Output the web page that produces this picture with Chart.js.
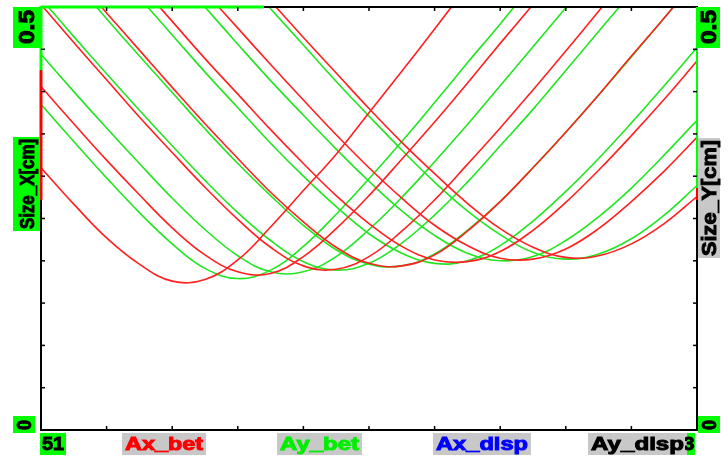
<!DOCTYPE html>
<html lang="en">
<head>
  <meta charset="UTF-8" />
  <title>Beam size scan</title>
  <style>
    html, body { margin: 0; padding: 0; background: #fff; }
    #wrap { width: 728px; height: 460px; }
  </style>
</head>
<body>
  <div id="wrap"><canvas id="scan" width="728" height="460"></canvas></div>

  <script src="https://cdn.jsdelivr.net/npm/chart.js@4.4.1/dist/chart.umd.min.js"></script>
  <script>
    // scan positions (x axis) and the read-off beam sizes [cm]
    const xGrid = [51.0, 51.1, 51.2, 51.3, 51.4, 51.5, 51.6, 51.7, 51.8, 51.9, 52.0,
                   52.1, 52.2, 52.3, 52.4, 52.5, 52.6, 52.7, 52.8, 52.9, 53.0];
    const xTickLabels = ['51', '53'];
    const yTickLabels = ['0', '0.5'];
    const axisTitles = ['Size_X[cm]', 'Size_Y[cm]'];
    const seriesNames = ['Ax_bet', 'Ay_bet', 'Ax_disp', 'Ay_disp'];

    // red family (Ax_bet)
    const axBet1 = [0.310, 0.267, 0.227, 0.196, 0.176, 0.178, 0.201, 0.240, 0.283, 0.326, 0.375, 0.424, 0.474, 0.525, null, null, null, null, null, null, null];
    const axBet2 = [0.406, 0.362, 0.319, 0.278, 0.239, 0.207, 0.187, 0.185, 0.205, 0.238, 0.277, 0.320, 0.364, 0.410, 0.457, 0.503, null, null, null, null, null];
    const axBet3 = [0.503, 0.458, 0.414, 0.370, 0.328, 0.287, 0.249, 0.216, 0.194, 0.190, 0.205, 0.235, 0.272, 0.314, 0.357, 0.402, 0.448, 0.495, 0.542, null, null];
    const axBet4 = [null, 0.538, 0.493, 0.449, 0.405, 0.362, 0.321, 0.281, 0.246, 0.216, 0.197, 0.194, 0.207, 0.235, 0.270, 0.310, 0.352, 0.396, 0.442, 0.487, 0.534];
    const axBet5 = [null, null, null, 0.527, 0.483, 0.439, 0.397, 0.355, 0.315, 0.277, 0.244, 0.217, 0.201, 0.199, 0.211, 0.236, 0.269, 0.307, 0.348, 0.391, 0.436];
    const axBet6 = [null, null, null, null, null, 0.518, 0.475, 0.432, 0.390, 0.349, 0.310, 0.274, 0.242, 0.218, 0.203, 0.202, 0.214, 0.238, 0.270, 0.306, 0.346];
    const axBet7 = [null, null, null, null, null, null, null, 0.507, 0.464, 0.422, 0.380, 0.340, 0.303, 0.268, 0.238, 0.216, 0.204, 0.206, 0.220, 0.244, 0.276];

    // green family (Ay_bet)
    const ayBet1 = [0.385, 0.341, 0.298, 0.257, 0.220, 0.191, 0.179, 0.189, 0.217, 0.255, 0.297, 0.341, 0.387, 0.434, 0.480, 0.528, null, null, null, null, null];
    const ayBet2 = [0.444, 0.400, 0.357, 0.315, 0.274, 0.237, 0.206, 0.187, 0.187, 0.205, 0.237, 0.275, 0.317, 0.361, 0.407, 0.453, 0.499, 0.546, null, null, null];
    const ayBet3 = [0.510, 0.465, 0.421, 0.378, 0.336, 0.295, 0.257, 0.224, 0.199, 0.189, 0.197, 0.221, 0.254, 0.293, 0.336, 0.379, 0.425, 0.471, 0.517, null, null];
    const ayBet4 = [null, 0.531, 0.486, 0.442, 0.399, 0.356, 0.315, 0.277, 0.242, 0.213, 0.196, 0.194, 0.208, 0.236, 0.270, 0.310, 0.352, 0.396, 0.441, 0.487, 0.533];
    const ayBet5 = [null, null, null, 0.511, 0.467, 0.423, 0.381, 0.339, 0.300, 0.264, 0.232, 0.209, 0.197, 0.200, 0.218, 0.247, 0.282, 0.321, 0.363, 0.407, 0.452];
    const ayBet6 = [null, null, null, null, 0.544, 0.500, 0.456, 0.413, 0.372, 0.332, 0.294, 0.259, 0.230, 0.209, 0.200, 0.205, 0.224, 0.252, 0.286, 0.325, 0.366];
    const ayBet7 = [null, null, null, null, null, null, 0.542, 0.498, 0.455, 0.412, 0.371, 0.331, 0.293, 0.259, 0.231, 0.210, 0.202, 0.208, 0.226, 0.254, 0.289];

    const redCurves = [axBet1, axBet2, axBet3, axBet4, axBet5, axBet6, axBet7];
    const greenCurves = [ayBet1, ayBet2, ayBet3, ayBet4, ayBet5, ayBet6, ayBet7];

    const GREEN = '#00ff00';
    const GRAY = '#c8c8c8';
    const RED = '#ff2020';
    const LINE_GREEN = '#22e622';

    function toPoints(ys) {
      return xGrid.map((x, i) => ({ x: x, y: ys[i] }));
    }

    const datasets = [];
    redCurves.forEach((ys, i) => {
      datasets.push({ label: seriesNames[0] + ' ' + (i + 1), data: toPoints(ys), borderColor: RED });
    });
    greenCurves.forEach((ys, i) => {
      datasets.push({ label: seriesNames[1] + ' ' + (i + 1), data: toPoints(ys), borderColor: LINE_GREEN });
    });

    // heavy text squeezed/stretched to a given length, optionally rotated
    function fitText(ctx, text, cx, cy, len, size, color, angle) {
      ctx.save();
      ctx.font = 'bold ' + size + 'px "Liberation Sans", Arial, sans-serif';
      const w = ctx.measureText(text).width;
      ctx.translate(cx, cy);
      ctx.rotate(angle || 0);
      ctx.scale(len / w, 1);
      ctx.fillStyle = color;
      ctx.strokeStyle = color;
      ctx.lineWidth = 1;
      ctx.textAlign = 'center';
      ctx.textBaseline = 'middle';
      ctx.fillText(text, 0, 1);
      ctx.strokeText(text, 0, 1);
      ctx.restore();
    }

    function box(ctx, x1, y1, x2, y2, color) {
      ctx.fillStyle = color;
      ctx.fillRect(x1, y1, x2 - x1, y2 - y1);
    }

    const scanFrame = {
      id: 'scanFrame',
      afterDatasetsDraw(chart) {
        const { ctx, chartArea: a, scales: { x, y } } = chart;
        const line = (x1, y1, x2, y2, color, w) => {
          ctx.beginPath();
          ctx.strokeStyle = color;
          ctx.lineWidth = w;
          ctx.moveTo(x1, y1);
          ctx.lineTo(x2, y2);
          ctx.stroke();
        };
        ctx.save();

        // frame
        ctx.strokeStyle = '#000';
        ctx.lineWidth = 2;
        ctx.strokeRect(a.left, a.top, a.right - a.left, a.bottom - a.top);

        // coloured pieces of the frame
        line(a.left, a.top - 1, a.left, y.getPixelForValue(0.425), GREEN, 3);
        line(a.left, y.getPixelForValue(0.425), a.left, y.getPixelForValue(0.272), '#ff0000', 3);
        line(a.right, a.top, a.right, y.getPixelForValue(0.286), GREEN, 2);
        line(a.right, y.getPixelForValue(0.286), a.right, y.getPixelForValue(0.272), '#ff0000', 2);
        line(a.left, a.top, x.getPixelForValue(51.68), a.top, GREEN, 3);

        // ticks
        for (let k = 1; k < 10; k++) {
          const py = y.getPixelForValue(k * 0.05);
          line(a.left, py, a.left + 4, py, '#000', 1.5);
          line(a.right - 4, py, a.right, py, '#000', 1.5);
          const px = x.getPixelForValue(51 + k * 0.2);
          line(px, a.top, px, a.top + 4, '#000', 1.5);
          line(px, a.bottom - 4, px, a.bottom, '#000', 1.5);
        }

        // left column
        const up = -Math.PI / 2;
        box(ctx, a.left - 28, a.top, a.left, a.top + 41, GREEN);
        fitText(ctx, yTickLabels[1], a.left - 14, a.top + 20, 34, 22, '#000', up);
        box(ctx, a.left - 28, 137, a.left - 1, 231, GREEN);
        fitText(ctx, axisTitles[0], a.left - 14, 184, 90, 20, '#000', up);
        box(ctx, a.left - 28, a.bottom - 14, a.left - 6, a.bottom + 3, GREEN);
        fitText(ctx, yTickLabels[0], a.left - 17, a.bottom - 5, 10, 20, '#000', up);

        // right column
        box(ctx, a.right, a.top, a.right + 23, a.top + 41, GREEN);
        fitText(ctx, yTickLabels[1], a.right + 12, a.top + 20, 34, 22, '#000', up);
        box(ctx, a.right + 1, 138, a.right + 23, 258, GRAY);
        fitText(ctx, axisTitles[1], a.right + 12, 198, 116, 20, '#000', up);
        box(ctx, a.right + 1, a.bottom - 14, a.right + 23, a.bottom + 3, GREEN);
        fitText(ctx, yTickLabels[0], a.right + 12, a.bottom - 5, 10, 20, '#000', up);

        // bottom row
        const b1 = a.bottom + 3, b2 = a.bottom + 25, bm = a.bottom + 14;
        box(ctx, a.left - 1, b1, a.left + 25, b2, GREEN);
        fitText(ctx, xTickLabels[0], a.left + 12, bm, 22, 19, '#000');

        const legend = [
          [seriesNames[0], 122, 206, '#ff0000'],
          [seriesNames[1], 277, 362, '#00ee00'],
          [seriesNames[2], 433, 531, '#0000ff'],
          [seriesNames[3], 588, 687, '#000000']
        ];
        box(ctx, a.right - 14, b1, a.right - 2, b2, GREEN);
        legend.forEach(([name, l, r, color]) => {
          box(ctx, l, b1, r, b2, GRAY);
          fitText(ctx, name, (l + r) / 2, bm, r - l - 6, 19, color);
        });
        // right end tick label, mostly hidden behind the last legend box
        ctx.save();
        ctx.beginPath();
        ctx.rect(a.right - 12, b1, 13, b2 - b1);
        ctx.clip();
        fitText(ctx, xTickLabels[1], a.right - 14, bm, 23, 19, '#000');
        ctx.restore();

        ctx.restore();
      }
    };

    new Chart(document.getElementById('scan').getContext('2d'), {
      type: 'line',
      data: { datasets: datasets },
      options: {
        responsive: false,
        animation: false,
        devicePixelRatio: 1,
        layout: { padding: { left: 41, right: 31, top: 7, bottom: 30 } },
        elements: {
          line: { borderWidth: 1.6, tension: 0.4 },
          point: { radius: 0, hoverRadius: 0 }
        },
        spanGaps: false,
        scales: {
          x: { type: 'linear', min: 51, max: 53, display: false },
          y: { type: 'linear', min: 0, max: 0.5, display: false }
        },
        plugins: {
          legend: { display: false },
          tooltip: { enabled: false }
        }
      },
      plugins: [scanFrame]
    });
  </script>
</body>
</html>
